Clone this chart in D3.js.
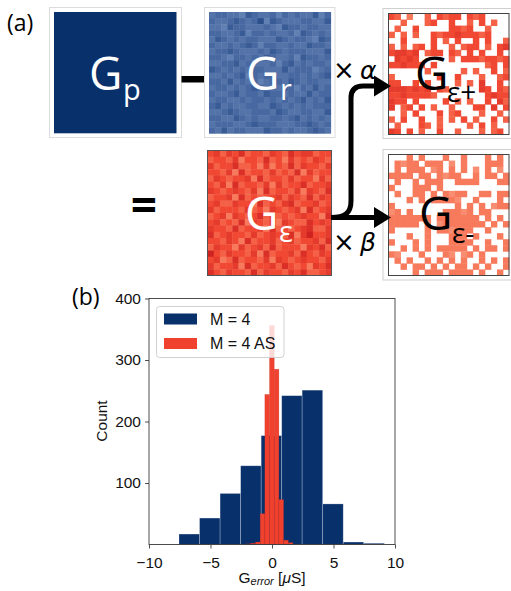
<!DOCTYPE html>
<html>
<head>
<meta charset="utf-8">
<script src="https://cdn.jsdelivr.net/npm/d3@7"></script>
<style>
  html, body { margin: 0; padding: 0; background: #fff; }
  svg { display: block; }
</style>
</head>
<body>
<svg id="chart" width="511" height="591"></svg>
<script>
// ---------------- DATA ----------------
// Histogram (b): bin edges (µS) and counts
const blueEdges  = [-7.56, -5.89, -4.22, -2.55, -0.88, 0.79, 2.45, 4.12, 5.79, 7.46, 9.13];
const blueCounts = [17, 43, 83, 128, 177, 242, 251, 66, 4, 2];
const redEdges   = [-2.10, -1.72, -1.34, -0.96, -0.58, -0.20, 0.18, 0.56, 0.94, 1.32, 1.70];
const redCounts  = [1, 2, 4, 50, 244, 356, 285, 73, 7, 3];
const xTicks = [-10, -5, 0, 5, 10];
const yTicks = [100, 200, 300, 400];
const legendLabels = ["M = 4", "M = 4 AS"];

// Panel (a): cell shade levels (0 light .. 9 dark), "." = empty cell
const gridGr = [
  "45544365445354544635","54456545736544455446","44365544454365545544","55445635545445365454",
  "46545455444654554365","54454565355445446554","45565444546545554446","55435545465445365545",
  "44556454445356454554","65454545544464555345","44545635455445545456","55464545345546545544",
  "45545456544455354645","54456455465545446455","45544545545454564546","56454455446545454555",
  "44565445554654455446","55446545445545645454","45554456555444556545","54645544465545445654"
];
const gridGe = [
  "56465745546547566455","45546355474536454654","64557445363547465546","55463745546454736455",
  "46545563745546455364","54637455463645574556","65456546374554636547","45563745455646547465",
  "56446553745467455645","64555464536545637456","45636545746454565537","56454736546365447565",
  "65547455637454567446","74565546456547368556","55465374556456455647","46553645647455536574",
  "85465546374556475465","56347455463654565546","64556374556475453657","75465547465546574456"
];
const gridGplus = [
  "54.3..4.5455.545....","..4...45..5..4.5.4..",".4..5.....5545..4...","4.4.4..5455655545...",
  "..5....5.4.5..5.5..4","4.4.45.5..4.455.4.56","56656.455.54.5.5..5.",".6565.....4.55545545",
  "556554.5........45.5","......4.....4.4..5.4","4.......5..5...4..45","55..5.5....4.4.6..5.",
  "6665656.54.....65.54","55655554........5655","655.5....5.4.4..5.64","6.45.5.4..4...55.6.5",
  "..4.5...5.45...4..4.","4.5..5..4.4.5.4..5.4",".4...54.4....4.5.4..","65.5.4..5..4...4.45."
];
const gridGminus = [
  "...3.3...3..3...3.3.",".3233.333.2.3...333.",".3.333.23.3.3.2.3.2.","3333.33.3233..3.33.3",
  ".3..3.333..3333...33","3...333.3...........",".3..33.3.3233..33.33","...3.3.33332..3...3.",
  "3..........3.3.3.233","23.3.....33323.33...","3333333.3333333.3.3.","33333.3.23333333.3.3",
  "3.....3.332333..3...","...3..3...333.3...3.","3...3.3...3333..3..3","..3.3.3.33333.3.33.3",
  "32...3...32.23.3....",".3.3..3.3.3.3..3.3.3","..3.33.3.3.33.3.3..3","....3.333.3333.3..3."
];

// ---------------- DRAW ----------------
const svg = d3.select("#chart");
const NAVY = "#08306b";
const RED = "#f0412f";
const blueShade = d3.scaleLinear().domain([0, 9]).range(["#86a2cf", "#14397a"]);
const redShade = d3.scaleLinear().domain([0, 3, 5, 9]).range(["#fcb49a", "#f87a5c", "#f04832", "#c3151b"]);
const topFont = "'Open Sans', sans-serif";

function drawGrid(rows, x0, y0, w, h, shade) {
  const n = rows.length, m = rows[0].length;
  const xs = d3.scaleBand().domain(d3.range(m)).range([x0, x0 + w]);
  const ys = d3.scaleBand().domain(d3.range(n)).range([y0, y0 + h]);
  const cells = [];
  rows.forEach((r, i) => r.split("").forEach((c, j) => { if (c !== ".") cells.push({i, j, v: +c}); }));
  const g = svg.append("g");
  g.selectAll("rect").data(cells).join("rect")
    .attr("x", d => xs(d.j)).attr("y", d => ys(d.i))
    .attr("width", xs.bandwidth() + 0.4).attr("height", ys.bandwidth() + 0.4)
    .attr("fill", d => shade(d.v));
  return g;
}
function frame(x, y, w, h, color) {
  svg.append("rect").attr("x", x).attr("y", y).attr("width", w).attr("height", h)
    .attr("fill", "none").attr("stroke", color).attr("stroke-width", 1);
}
function label(txt, x, y, size, color, extra) {
  const t = svg.append("text").attr("x", x).attr("y", y).text(txt)
    .style("font-family", topFont).attr("font-size", size).attr("fill", color);
  if (extra) extra(t);
  return t;
}

// (a) label
label("(a)", 7, 31, 23, "#000");

// Gp
frame(49.5, 7.5, 132, 130, "#dcdcdc");
svg.append("rect").attr("x", 54).attr("y", 12).attr("width", 122.5).attr("height", 121.3).attr("fill", NAVY);
label("G", 89, 90, 46, "#fff");
label("p", 123, 100, 29, "#fff");

// minus
svg.append("rect").attr("x", 181.5).attr("y", 76).attr("width", 22.5).attr("height", 6.5).attr("fill", "#000");

// Gr
frame(204.5, 7.5, 130.5, 130, "#dcdcdc");
drawGrid(gridGr, 209, 12, 121.7, 121.3, blueShade);
label("G", 246, 90, 46, "#fff");
label("r", 280, 100, 29, "#fff");

// equals
label("=", 144, 222, 46, "#000", t => t.attr("text-anchor", "middle").attr("font-weight", "bold"));

// Gε
drawGrid(gridGe, 207.5, 150.5, 124, 125, redShade);
frame(207.5, 150.5, 124, 125, "#555");
label("G", 245, 230, 46, "#fff");
label("ε", 279, 242, 29, "#fff");

// Gε+
frame(383, 8.5, 130, 130, "#cfcfcf");
drawGrid(gridGplus, 388.5, 13.5, 120.5, 121, redShade);
frame(388.5, 13.5, 120.5, 121, "#444");
label("G", 415, 90, 46, "#000");
label("ε+", 447, 102, 28, "#000");

// Gε-
frame(383, 149.5, 130, 130.5, "#cfcfcf");
drawGrid(gridGminus, 388.5, 154.5, 120.5, 121, redShade);
frame(388.5, 154.5, 120.5, 121, "#444");
label("G", 419, 230, 46, "#000");
label("ε-", 452, 243, 28, "#000");

// arrows
svg.append("path").attr("d", "M331,217.5 L377,217.5").attr("stroke", "#000").attr("stroke-width", 5).attr("fill", "none");
svg.append("path").attr("d", "M331,217.5 C345,217.5 351,213 351,201 L351,98 Q351,86 363,86 L377,86")
  .attr("stroke", "#000").attr("stroke-width", 5).attr("fill", "none");
svg.append("path").attr("d", "M374,75.5 L391,86 L374,96.5 Z").attr("fill", "#000");
svg.append("path").attr("d", "M374,207 L391,217.5 L374,228 Z").attr("fill", "#000");

// multipliers
const mult = (sym, y) => {
  svg.append("text").attr("x", 333).attr("y", y).style("font-family", "'DejaVu Sans', sans-serif")
    .attr("font-size", 26).attr("fill", "#000").text("×");
  svg.append("text").attr("x", 360).attr("y", y).style("font-family", "'DejaVu Sans', sans-serif")
    .attr("font-style", "italic").attr("font-size", 25).attr("fill", "#000").text(sym);
};
mult("α", 79);
mult("β", 251);

// ---------------- (b) histogram ----------------
label("(b)", 72, 305, 23, "#000");
const x = d3.scaleLinear().domain([-10, 10]).range([149, 395]);
const y = d3.scaleLinear().domain([0, 400]).range([544.5, 298.5]);
const bins = (edges, counts) => counts.map((c, i) => ({x0: edges[i], x1: edges[i + 1], c}));

const hg = svg.append("g");
hg.selectAll("rect.b").data(bins(blueEdges, blueCounts)).join("rect").attr("class", "b")
  .attr("x", d => x(d.x0)).attr("width", d => x(d.x1) - x(d.x0))
  .attr("y", d => y(d.c)).attr("height", d => y(0) - y(d.c))
  .attr("fill", NAVY).attr("stroke", "rgba(255,255,255,0.35)").attr("stroke-width", 0.7);
hg.selectAll("rect.r").data(bins(redEdges, redCounts)).join("rect").attr("class", "r")
  .attr("x", d => x(d.x0)).attr("width", d => x(d.x1) - x(d.x0))
  .attr("y", d => y(d.c)).attr("height", d => y(0) - y(d.c))
  .attr("fill", RED).attr("stroke", "rgba(190,40,30,0.45)").attr("stroke-width", 0.5);

// spines
svg.append("rect").attr("x", 149).attr("y", 298.5).attr("width", 246).attr("height", 246)
  .attr("fill", "none").attr("stroke", "#3a3a3a").attr("stroke-width", 0.9);

const axFont = "'Liberation Sans', Arial, sans-serif";
const xa = svg.append("g").attr("transform", "translate(0,544.5)")
  .call(d3.axisBottom(x).tickValues(xTicks).tickSize(4).tickPadding(8));
const ya = svg.append("g").attr("transform", "translate(149,0)")
  .call(d3.axisLeft(y).tickValues(yTicks).tickSize(4).tickPadding(4));
[xa, ya].forEach(a => {
  a.attr("font-family", null).attr("font-size", null);
  a.select(".domain").remove();
  a.selectAll("line").attr("stroke", "#3a3a3a").attr("stroke-width", 0.9);
  a.selectAll("text").style("font-family", axFont).style("font-size", "15.5px").attr("fill", "#111");
});

// axis labels
svg.append("text").attr("transform", "translate(107,421) rotate(-90)").attr("text-anchor", "middle")
  .style("font-family", axFont).style("font-size", "15.5px").attr("fill", "#111").text("Count");
const xl = svg.append("text").attr("x", 272).attr("y", 583).attr("text-anchor", "middle")
  .style("font-family", axFont).style("font-size", "15.5px").attr("fill", "#111");
xl.append("tspan").text("G");
xl.append("tspan").style("font-size", "11px").attr("font-style", "italic").attr("dy", 2).text("error");
xl.append("tspan").attr("dy", -2).text(" [");
xl.append("tspan").attr("font-style", "italic").text("μ");
xl.append("tspan").text("S]");

// legend
const lg = svg.append("g");
lg.append("rect").attr("x", 156.5).attr("y", 306.5).attr("width", 127.5).attr("height", 51).attr("rx", 3)
  .attr("fill", "rgba(255,255,255,0.8)").attr("stroke", "#cccccc").attr("stroke-width", 0.9);
[NAVY, RED].forEach((c, i) => {
  lg.append("rect").attr("x", 164).attr("y", 313.5 + i * 24.5).attr("width", 33).attr("height", 11).attr("fill", c);
  lg.append("text").attr("x", 210).attr("y", 324.5 + i * 24.5).style("font-family", axFont)
    .style("font-size", "16px").attr("fill", "#111").text(legendLabels[i]);
});
</script>
</body>
</html>
